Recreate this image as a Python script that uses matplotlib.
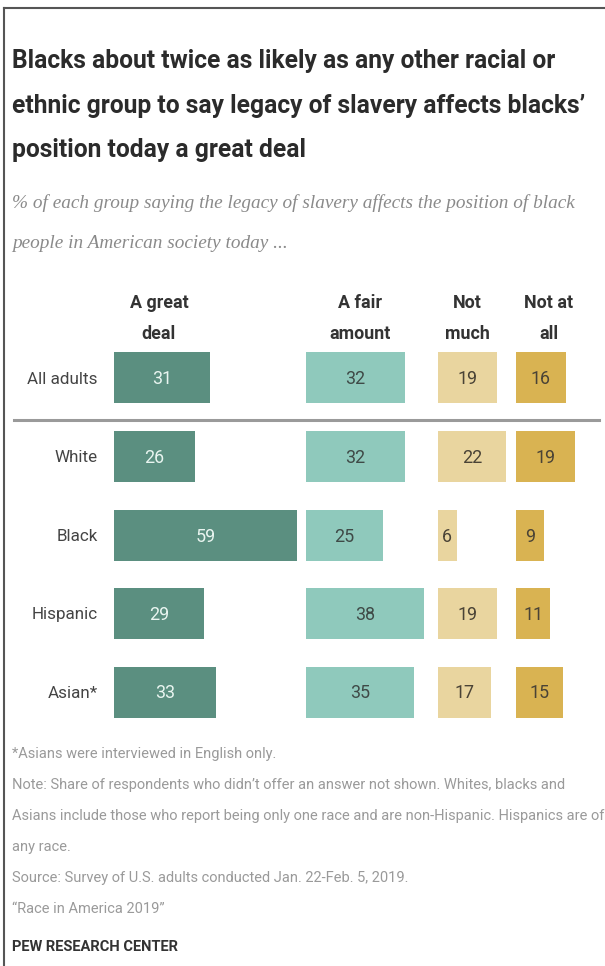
import matplotlib
matplotlib.use("Agg")
import matplotlib.pyplot as plt
from matplotlib.lines import Line2D

W, H = 605, 966

groups = ['All adults', 'White', 'Black', 'Hispanic', 'Asian*']
great_deal = [31, 26, 59, 29, 33]
fair_amount = [32, 32, 25, 38, 35]
not_much = [19, 22, 6, 19, 17]
not_at_all = [16, 19, 9, 11, 15]
column_labels = ['A great\ndeal', 'A fair\namount', 'Not\nmuch', 'Not at\nall']

title_lines = [
    "Blacks about twice as likely as any other racial or",
    "ethnic group to say legacy of slavery affects blacks\u2019",
    "position today a great deal",
]
subtitle_lines = [
    "% of each group saying the legacy of slavery affects the position of black",
    "people in American society today ...",
]
notes = [
    "*Asians were interviewed in English only.",
    "Note: Share of respondents who didn\u2019t offer an answer not shown. Whites, blacks and",
    "Asians include those who report being only one race and are non-Hispanic. Hispanics are of",
    "any race.",
    "Source: Survey of U.S. adults conducted Jan. 22-Feb. 5, 2019.",
    "\u201cRace in America 2019\u201d",
]

# layout (pixels / percent units)
x0_px = 114          # where the bars start
px_per_pct = 3.1
col_offsets = [0, 61.9, 104.5, 129.7]
header_x = [14.5, 79.3, 114.0, 140.3]
header_baselines = [308, 339]
colors = ['#5b8f80', '#8fc9bc', '#e9d59f', '#d9b352']
value_colors = ['#e9f5f0', '#3f4a47', '#4a4336', '#4a4336']
row_y0, row_step, bar_h = 377.5, 78.5, 51

sans = ['Roboto', 'DejaVu Sans']
serif = ['Liberation Serif', 'DejaVu Serif']

fig = plt.figure(figsize=(W / 100, H / 100), dpi=100)
renderer = fig.canvas.get_renderer()
ax = fig.add_axes([0, 0, 1, 1])
ax.set_xlim(-x0_px / px_per_pct, (W - x0_px) / px_per_pct)
ax.set_ylim(H, 0)
ax.axis('off')


def fx(px):
    return px / W


def fy(py):
    return 1 - py / H


def fit_size(text, target_px, **kw):
    """font size that makes text about target_px wide"""
    t = fig.text(0, 0, text, fontsize=20, **kw)
    w = t.get_window_extent(renderer).width
    t.remove()
    return 20 * target_px / w


series = [great_deal, fair_amount, not_much, not_at_all]
rows = [row_y0 + row_step * i for i in range(len(groups))]
rows[1:] = [r + 0.5 for r in rows[1:]]

label_size = fit_size('Hispanic', 66, family=sans)
value_size = fit_size('31', 20, family=sans)
header_size = fit_size('amount', 61, family=sans, fontweight='bold')

for j, vals in enumerate(series):
    bars = ax.barh(rows, vals, left=col_offsets[j], height=bar_h,
                   color=colors[j], edgecolor='none')
    for b, v in zip(bars, vals):
        ax.text(b.get_x() + b.get_width() / 2, b.get_y() + b.get_height() / 2 + 1.5,
                str(v), ha='center', va='center', fontsize=value_size,
                color=value_colors[j], family=sans)

for y, g in zip(rows, groups):
    ax.text(-5.2, y + 1.5, g, ha='right', va='center', fontsize=label_size,
            color='#444444', family=sans)

for x, lab in zip(header_x, column_labels):
    for yb, part in zip(header_baselines, lab.split('\n')):
        ax.text(x, yb, part, ha='center', va='baseline', fontsize=header_size,
                fontweight='bold', color='#333333', family=sans)

# separator under "All adults"
ax.add_line(Line2D([(14 - x0_px) / px_per_pct, (599 - x0_px) / px_per_pct], [420, 420],
                   color='#9a9a9a', lw=2.2))

title_size = fit_size(title_lines[0], 543, family=sans, fontweight='bold')
for i, line in enumerate(title_lines):
    fig.text(fx(12), fy(68 + 44.5 * i), line, fontsize=title_size, fontweight='bold',
             color='#2b2b2b', family=sans, va='baseline')

sub_size = fit_size(subtitle_lines[0], 563, family=serif, style='italic')
for i, line in enumerate(subtitle_lines):
    fig.text(fx(12), fy(208 + 40 * i), line, fontsize=sub_size, style='italic',
             color='#8a8a8a', family=serif, va='baseline')

note_size = fit_size(notes[2], 590, family=sans)
for i, line in enumerate(notes):
    fig.text(fx(12), fy(758 + 31 * i), line, fontsize=note_size, color='#9a9a9a',
             family=sans, va='baseline')

pew_size = fit_size("PEW RESEARCH CENTER", 166, family=sans, fontweight='bold')
fig.text(fx(12), fy(951), "PEW RESEARCH CENTER", fontsize=pew_size, fontweight='bold',
         color='#333333', family=sans, va='baseline')

# frame edges seen in the screenshot
fig.add_artist(Line2D([fx(4), 1], [fy(8), fy(8)], color='#555555', lw=1.5))
fig.add_artist(Line2D([fx(4), fx(4)], [fy(8), 0], color='#555555', lw=1.5))

fig.savefig("out.png", dpi=100)
